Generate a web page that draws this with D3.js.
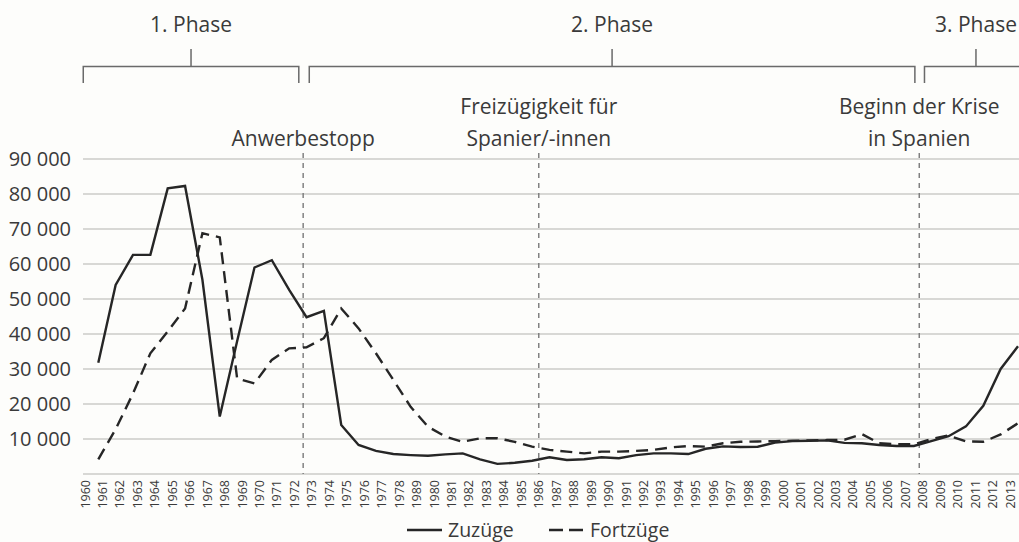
<!DOCTYPE html>
<html lang="de">
<head>
<meta charset="UTF-8">
<title>Zuzüge und Fortzüge</title>
<script src="https://d3js.org/d3.v7.min.js"></script>
<style>
  body { margin: 0; background: #fdfdfb; }
  text { font-family: "Open Sans", sans-serif; fill: #3a3a3a; }
</style>
</head>
<body>
<script>
// year labels as printed (the original axis shows "1989" where 1979 would be)
const yearLabels = ["1960","1961","1962","1963","1964","1965","1966","1967","1968","1969",
  "1970","1971","1972","1973","1974","1975","1976","1977","1978","1989",
  "1980","1981","1982","1983","1984","1985","1986","1987","1988","1989",
  "1990","1991","1992","1993","1994","1995","1996","1997","1998","1999",
  "2000","2001","2002","2003","2004","2005","2006","2007","2008","2009",
  "2010","2011","2012","2013"];

const zuzuege = [31800, 54000, 62600, 62600, 81600, 82300, 55500, 16400, 37900, 59000,
  61100, 52600, 44800, 46600, 14000, 8300, 6600, 5700, 5400, 5200,
  5600, 5900, 4200, 2900, 3200, 3800, 4800, 4000, 4200, 4800,
  4500, 5400, 5900, 5900, 5700, 7200, 7900, 7700, 7800, 9000,
  9400, 9500, 9600, 8900, 8800, 8300, 8000, 8000, 9400, 10800,
  13600, 19500, 30000, 36500];

const fortzuege = [4200, 12800, 23000, 34500, 40700, 47300, 68800, 67600, 27300, 25900,
  32600, 35900, 36200, 38800, 47300, 41600, 34500, 26900, 19200, 13500,
  10700, 9200, 10200, 10200, 9200, 7800, 6900, 6400, 5900, 6400,
  6400, 6600, 6900, 7600, 8000, 7800, 8800, 9200, 9300, 9400,
  9500, 9600, 9700, 9800, 11400, 8800, 8500, 8500, 10000, 11000,
  9300, 9200, 11300, 14500];

const yTicks = [10000, 20000, 30000, 40000, 50000, 60000, 70000, 80000, 90000];

// events (position in label index units) and phases
const events = [
  { pos: 12.5, lines: ["Anwerbestopp"] },
  { pos: 26, lines: ["Freizügigkeit für", "Spanier/-innen"] },
  { pos: 47.8, lines: ["Beginn der Krise", "in Spanien"] }
];
const phases = [
  { name: "1. Phase", from: -0.1, to: 12.25 },
  { name: "2. Phase", from: 12.85, to: 47.55 },
  { name: "3. Phase", from: 48.1, to: 54.0 }
];

const width = 1019, height = 542;
const svg = d3.select("body").append("svg")
  .attr("width", width)
  .attr("height", height);

const n = yearLabels.length;
const xLabel = d3.scaleLinear().domain([0, n - 1]).range([85, 1010]);
const xData = d3.scaleLinear().domain([0, n - 1]).range([98.3, 1018]);
const y = d3.scaleLinear().domain([0, 90000]).range([474, 159]);

// grid
svg.append("g").selectAll("line")
  .data([0].concat(yTicks))
  .join("line")
  .attr("x1", 83).attr("x2", width)
  .attr("y1", d => y(d)).attr("y2", d => y(d))
  .attr("stroke", "#cbcbc8")
  .attr("stroke-width", 1.6);

// y labels
const fmt = d => d3.format(",")(d).replace(",", " ");
svg.append("g").selectAll("text")
  .data(yTicks)
  .join("text")
  .attr("x", 71)
  .attr("y", d => y(d))
  .attr("dy", "0.36em")
  .attr("text-anchor", "end")
  .style("font-size", "20px")
  .text(fmt);

// x labels
svg.append("g").selectAll("text")
  .data(yearLabels)
  .join("text")
  .attr("transform", (d, i) => `translate(${xLabel(i)},480) rotate(-90)`)
  .attr("dy", "0.36em")
  .attr("text-anchor", "end")
  .style("font-size", "12.5px")
  .text(d => d);

// event lines + labels
const ev = svg.append("g");
ev.selectAll("line")
  .data(events)
  .join("line")
  .attr("x1", d => xLabel(d.pos)).attr("x2", d => xLabel(d.pos))
  .attr("y1", 153).attr("y2", 474)
  .attr("stroke", "#7a7a7a")
  .attr("stroke-width", 1.4)
  .attr("stroke-dasharray", "5,5");
ev.selectAll("text")
  .data(events)
  .join("text")
  .attr("x", d => xLabel(d.pos))
  .attr("y", d => d.lines.length === 1 ? 146 : 114)
  .attr("text-anchor", "middle")
  .style("font-size", "21px")
  .each(function(d) {
    d3.select(this).selectAll("tspan")
      .data(d.lines)
      .join("tspan")
      .attr("x", xLabel(d.pos))
      .attr("dy", (t, i) => i === 0 ? 0 : 32)
      .text(t => t);
  });

// phase brackets
const ph = svg.append("g")
  .attr("fill", "none")
  .attr("stroke", "#6a6a6a")
  .attr("stroke-width", 1.5);
ph.selectAll("path")
  .data(phases)
  .join("path")
  .attr("d", d => {
    const a = xLabel(d.from), b = xLabel(d.to), m = (a + b) / 2;
    return `M${a},83V66.5H${b}V83M${m},66.5V49`;
  });
svg.append("g").selectAll("text")
  .data(phases)
  .join("text")
  .attr("x", d => (xLabel(d.from) + xLabel(d.to)) / 2)
  .attr("y", 32)
  .attr("text-anchor", "middle")
  .style("font-size", "21px")
  .text(d => d.name);

// series
const line = d3.line().x((d, i) => xData(i)).y(d => y(d));
svg.append("path")
  .datum(fortzuege)
  .attr("d", line)
  .attr("fill", "none")
  .attr("stroke", "#262626")
  .attr("stroke-width", 2.4)
  .attr("stroke-dasharray", "12,7");
svg.append("path")
  .datum(zuzuege)
  .attr("d", line)
  .attr("fill", "none")
  .attr("stroke", "#262626")
  .attr("stroke-width", 2.4)
  .attr("stroke-linejoin", "miter");

// legend
const legend = [
  { name: "Zuzüge", dash: null, x: 407 },
  { name: "Fortzüge", dash: "14,6", x: 549 }
];
const lg = svg.append("g").selectAll("g")
  .data(legend)
  .join("g")
  .attr("transform", d => `translate(${d.x},530)`);
lg.append("line")
  .attr("x1", 0).attr("x2", 35)
  .attr("stroke", "#262626")
  .attr("stroke-width", 2.4)
  .attr("stroke-dasharray", d => d.dash);
lg.append("text")
  .attr("x", 41)
  .attr("dy", "0.36em")
  .style("font-size", "19.5px")
  .text(d => d.name);
</script>
</body>
</html>
